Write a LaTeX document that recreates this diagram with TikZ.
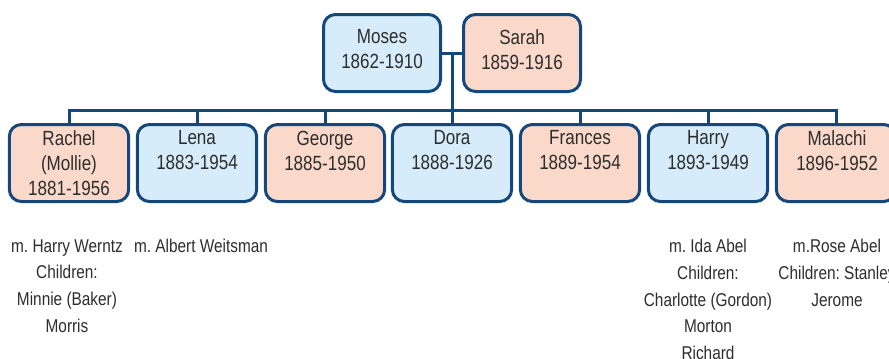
\documentclass[tikz,border=0pt]{standalone}
\usepackage{fontspec}
\setmainfont{Liberation Sans}[FakeStretch=0.83]
\usepackage{tikz}
\usetikzlibrary{positioning,calc}
\frenchspacing

\definecolor{boxblue}{RGB}{214,236,250}
\definecolor{boxpink}{RGB}{250,216,202}
\definecolor{edgeblue}{RGB}{20,72,125}
\definecolor{txtgray}{RGB}{45,45,45}

\tikzset{
  person/.style={draw=edgeblue, line width=2.25pt, rounded corners=9pt,
    minimum width=89.5pt, minimum height=57.75pt, inner sep=0pt},
  parent/.style={person, minimum width=87.75pt},
  male/.style={fill=boxblue},
  female/.style={fill=boxpink},
  pname/.style={anchor=north, align=center, inner sep=0pt, text=txtgray,
    font=\fontsize{15.4}{18.8}\selectfont},
  note/.style={anchor=north, align=center, inner sep=0pt, text=txtgray,
    font=\fontsize{13.9}{20}\selectfont},
  link/.style={draw=edgeblue, line width=2.25pt}
}

\begin{document}
\begin{tikzpicture}[x=0.75pt, y=-0.75pt]
        \useasboundingbox (0,0) rectangle (889,358);
        \clip (0,0) rectangle (889,358);

        % Parents
        \node[parent, male] (moses) at (382,53) {};
        \node[parent, female] (sarah) at (522,53) {};
        \node[pname] at (382,29.5) {Moses\\1862-1910};
        \node[pname] at (522,29.5) {Sarah\\1859-1916};

        % Children
        \node[person, female] (rachel) at (69,163) {};
        \node[person, male] (lena) at (197,163) {};
        \node[person, female] (george) at (325,163) {};
        \node[person, male] (dora) at (452,163) {};
        \node[person, female] (frances) at (580,163) {};
        \node[person, male] (harry) at (708,163) {};
        \node[person, female] (malachi) at (836,163) {};

        \node[pname] at (69,130.5) {Rachel\\(Mollie)\\1881-1956};
        \node[pname] at (197,130.5) {Lena\\1883-1954};
        \node[pname] at (325,130.5) {George\\1885-1950};
        \node[pname] at (452,130.5) {Dora\\1888-1926};
        \node[pname] at (580,130.5) {Frances\\1889-1954};
        \node[pname] at (708,130.5) {Harry\\1893-1949};
        \node[pname] at (837,130.5) {Malachi\\1896-1952};

        % Connectors
        \draw[link] (moses.east) -- (sarah.west);
        \coordinate (bus) at ($(moses.east)!0.5!(sarah.west)$);
        \draw[link] (bus) -- (bus |- 0,110);
        \draw[link] (rachel.north) -- (rachel.north |- 0,110) -| (malachi.north);
        \foreach \kid in {lena,george,dora,frances,harry}
          \draw[link] (\kid.north) -- (\kid.north |- 0,110);

        % Spouses and children
        \node[note] at (67,239) {m. Harry Werntz\\Children:\\Minnie (Baker)\\Morris};
        \node[note] at (201,239) {m. Albert Weitsman};
        \node[note] at (708,239) {m. Ida Abel\\Children:\\Charlotte (Gordon)\\Morton\\Richard};
        \node[note] at (837,239) {m.Rose Abel\\Children: Stanley\\Jerome};
\end{tikzpicture}
\end{document}
